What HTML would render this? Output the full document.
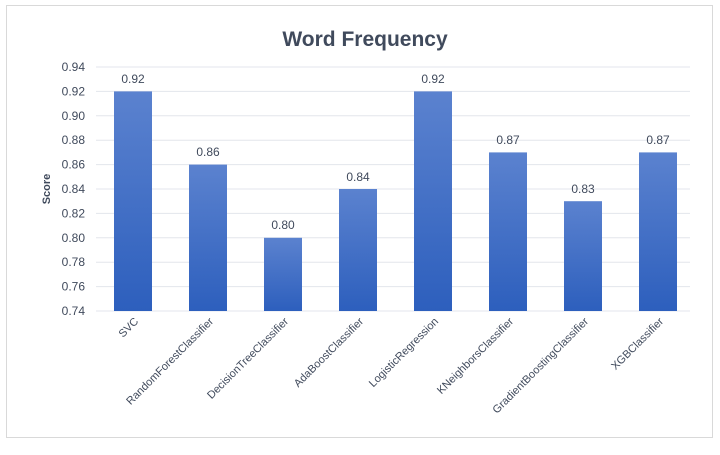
<!DOCTYPE html>
<html><head><meta charset="utf-8"><style>
html,body{margin:0;padding:0;background:#fff;}
svg{display:block;font-family:"Liberation Sans",sans-serif;}
</style></head><body>
<svg width="720" height="455" viewBox="0 0 720 455">
<defs><linearGradient id="g" x1="0" y1="0" x2="0" y2="1">
<stop offset="0" stop-color="#5b82cf"/><stop offset="1" stop-color="#2d5fbd"/></linearGradient></defs>
<rect x="6.5" y="5.5" width="706" height="432" fill="#fff" stroke="#d9d9d9"/>
<text x="365" y="46" text-anchor="middle" font-size="21" font-weight="bold" fill="#404a5c">Word Frequency</text>
<g stroke="#e3e6ec" stroke-width="1">
<line x1="96" x2="690" y1="67" y2="67"/><line x1="96" x2="690" y1="91.4" y2="91.4"/>
<line x1="96" x2="690" y1="115.8" y2="115.8"/><line x1="96" x2="690" y1="140.2" y2="140.2"/>
<line x1="96" x2="690" y1="164.6" y2="164.6"/><line x1="96" x2="690" y1="189" y2="189"/>
<line x1="96" x2="690" y1="213.4" y2="213.4"/><line x1="96" x2="690" y1="237.8" y2="237.8"/>
<line x1="96" x2="690" y1="262.2" y2="262.2"/><line x1="96" x2="690" y1="286.6" y2="286.6"/>
<line x1="96" x2="690" y1="311" y2="311"/></g>
<g font-size="12" fill="#404a5c" text-anchor="end">
<text x="85" y="71">0.94</text><text x="85" y="95.4">0.92</text><text x="85" y="119.8">0.90</text>
<text x="85" y="144.2">0.88</text><text x="85" y="168.6">0.86</text><text x="85" y="193">0.84</text>
<text x="85" y="217.4">0.82</text><text x="85" y="241.8">0.80</text><text x="85" y="266.2">0.78</text>
<text x="85" y="290.6">0.76</text><text x="85" y="315">0.74</text></g>
<text transform="translate(50,189) rotate(-90)" text-anchor="middle" font-size="11" font-weight="bold" fill="#404a5c">Score</text>
<g fill="url(#g)">
<rect x="114" y="91.4" width="38" height="219.6"/>
<rect x="189" y="164.6" width="38" height="146.4"/>
<rect x="264" y="237.8" width="38" height="73.2"/>
<rect x="339" y="189" width="38" height="122"/>
<rect x="414" y="91.4" width="38" height="219.6"/>
<rect x="489" y="152.4" width="38" height="158.6"/>
<rect x="564" y="201.2" width="38" height="109.8"/>
<rect x="639" y="152.4" width="38" height="158.6"/>
</g>
<g font-size="12" fill="#404a5c" text-anchor="middle">
<text x="133" y="83">0.92</text><text x="208" y="156">0.86</text><text x="283" y="229">0.80</text>
<text x="358" y="181">0.84</text><text x="433" y="83">0.92</text><text x="508" y="144">0.87</text>
<text x="583" y="193">0.83</text><text x="658" y="144">0.87</text></g>
<g font-size="11" fill="#404a5c" text-anchor="end">
<text transform="translate(139,322) rotate(-45)">SVC</text>
<text transform="translate(214,322) rotate(-45)">RandomForestClassifier</text>
<text transform="translate(289,322) rotate(-45)">DecisionTreeClassifier</text>
<text transform="translate(364,322) rotate(-45)">AdaBoostClassifier</text>
<text transform="translate(439,322) rotate(-45)">LogisticRegression</text>
<text transform="translate(514,322) rotate(-45)">KNeighborsClassifier</text>
<text transform="translate(589,322) rotate(-45)">GradientBoostingClassifier</text>
<text transform="translate(664,322) rotate(-45)">XGBClassifier</text>
</g>
</svg>
</body></html>
